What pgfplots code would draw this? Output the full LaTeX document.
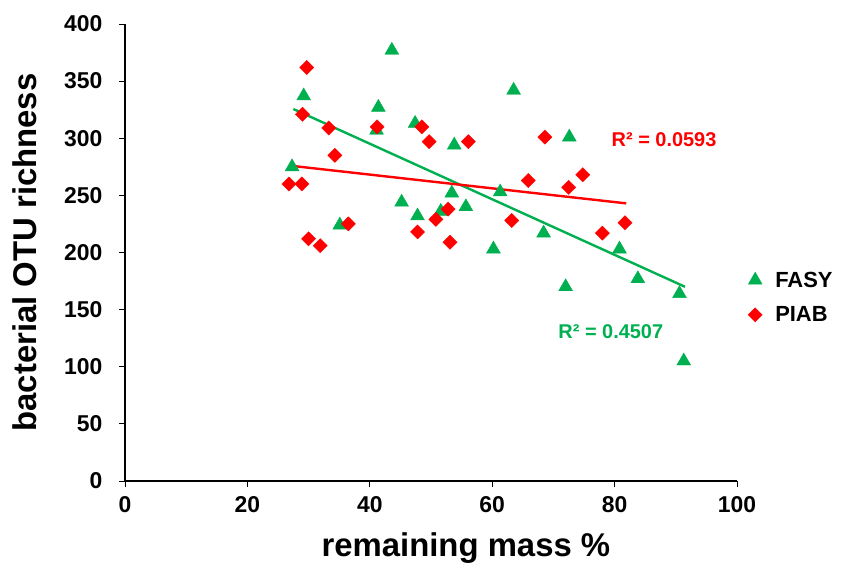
\documentclass[border=0pt]{standalone}
\usepackage{fontspec}
\setmainfont{Liberation Sans}
\usepackage{pgfplots}
\pgfplotsset{compat=1.18}
\definecolor{fasy}{RGB}{0,176,80}
\definecolor{piab}{RGB}{255,0,0}

\begin{document}
\begin{tikzpicture}
\useasboundingbox (-125bp,-98bp) rectangle (739bp,481bp);
\begin{axis}[
    at={(0,0)}, anchor=south west,
    scale only axis, width=612bp, height=457bp,
    xmin=0, xmax=100, ymin=0, ymax=400,
    xtick={0,20,...,100}, ytick={0,50,...,400},
    axis lines=left,
    axis line style={-, line width=1.2pt, black},
    tick align=outside, major tick length=6bp,
    tick style={black, line width=1pt},
    /pgf/number format/assume math mode=true,
    ticklabel style={font=\bfseries\fontsize{23}{23}\selectfont},
    yticklabel style={xshift=-13bp},
    xticklabel style={yshift=-6bp},
    xlabel={remaining mass \%},
    xlabel style={font=\bfseries\fontsize{33}{33}\selectfont,
      at={(axis description cs:0.557,-0.147)}, anchor=center},
    ylabel={bacterial OTU richness},
    ylabel style={font=\bfseries\fontsize{33}{33}\selectfont,
      at={(axis description cs:-0.163,0.5)}, anchor=center},
    legend style={at={(axis description cs:1.013,0.467)}, anchor=north west,
      draw=none, fill=none, font=\bfseries\fontsize{22}{22}\selectfont,
      row sep=14bp, column sep=11bp},
    legend cell align=left,
    clip=false,
  ]
  % FASY
  \addplot[only marks, mark=triangle*, mark size=8bp, color=fasy] coordinates {
    (27.3,275) (29.2,337) (35.1,224) (41.4,327) (41.1,307) (43.6,377)
    (45.2,244) (47.4,313) (47.8,232) (51.6,236) (53.4,252) (53.8,294)
    (55.7,240) (60.2,203) (61.3,253) (63.5,342) (68.4,217) (72.0,170)
    (72.6,301) (80.8,203) (83.8,177) (90.6,164) (91.3,105)
  };
  \addlegendentry{FASY}
  % PIAB
  \addplot[only marks, mark=square*, mark options={rotate=45}, mark size=5bp, color=piab] coordinates {
    (26.8,260) (28.9,260) (29.0,321) (29.7,362) (30.0,212) (31.9,206)
    (33.3,309) (34.3,285) (36.5,225) (41.2,310) (47.8,218) (48.5,310)
    (49.7,297) (50.8,229) (52.8,238) (53.1,209) (56.1,297) (63.2,228)
    (65.9,263) (68.6,301) (72.5,257) (74.8,268) (78.0,217) (81.7,226)
  };
  \addlegendentry{PIAB}
  % trend lines
  \addplot[fasy, line width=2.4bp, forget plot] coordinates {(27.5,325.6) (91.5,170)};
  \addplot[piab, line width=2.4bp, forget plot] coordinates {(27.0,276) (81.9,243)};
  \node[anchor=west, text=piab, font=\bfseries\fontsize{20}{20}\selectfont, inner sep=0pt]
    at (axis cs:79.5,298.5) {R² = 0.0593};
  \node[anchor=west, text=fasy, font=\bfseries\fontsize{20}{20}\selectfont, inner sep=0pt]
    at (axis cs:70.8,130.6) {R² = 0.4507};
\end{axis}
\end{tikzpicture}
\end{document}
